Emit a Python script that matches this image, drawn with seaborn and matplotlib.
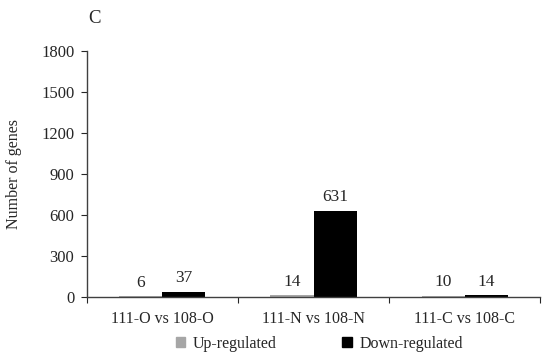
import pandas as pd
import seaborn as sns
import matplotlib.pyplot as plt
from matplotlib.patches import Patch

comparisons = ["111-O vs 108-O", "111-N vs 108-N", "111-C vs 108-C"]
up_regulated = [6, 14, 10]
down_regulated = [37, 631, 14]
series = ["Up-regulated", "Down-regulated"]
colors = ["#a6a6a6", "#000000"]

df = pd.DataFrame({
    "comparison": comparisons * 2,
    "count": up_regulated + down_regulated,
    "regulation": [series[0]] * 3 + [series[1]] * 3,
})

sns.set_style("white")
plt.rcParams["font.family"] = ["Liberation Serif", "DejaVu Serif"]

fig = plt.figure(figsize=(5.5, 3.6), dpi=100)
ax = fig.add_axes([0.158, 0.175, 0.824, 0.683])

sns.barplot(data=df, x="comparison", y="count", hue="regulation",
            palette=colors, width=0.57, ax=ax, legend=False,
            edgecolor="none", saturation=1)

for cont in ax.containers:
    ax.bar_label(cont, padding=4, fontsize=12.5)

ax.set_ylim(0, 1800)
ax.set_yticks(range(0, 1801, 300))
ax.set_xlim(-0.5, 2.5)
ax.set_xlabel("")
ax.set_ylabel("Number of genes", fontsize=11.5, labelpad=14)
ax.tick_params(axis="y", labelsize=12, direction="out", length=4, left=True, width=0.8, pad=5)
ax.tick_params(axis="x", which="major", length=0, labelsize=11.5, pad=10)
ax.set_xticks([-0.5, 0.5, 1.5, 2.5], minor=True)
ax.tick_params(axis="x", which="minor", length=4, direction="out", bottom=True, width=0.8)
for s in ["top", "right"]:
    ax.spines[s].set_visible(False)
for s in ["left", "bottom"]:
    ax.spines[s].set_color("#404040")
    ax.spines[s].set_linewidth(1)

handles = [Patch(color=c, label=l) for c, l in zip(colors, series)]
fig.legend(handles=handles, loc="center", bbox_to_anchor=(0.581, 0.045), ncol=2,
           frameon=False, fontsize=11.5, handlelength=0.6, handleheight=0.6,
           columnspacing=4.1, handletextpad=0.5)

fig.text(0.16, 0.935, "C", fontsize=13.5)

fig.savefig("out.png", dpi=100)
